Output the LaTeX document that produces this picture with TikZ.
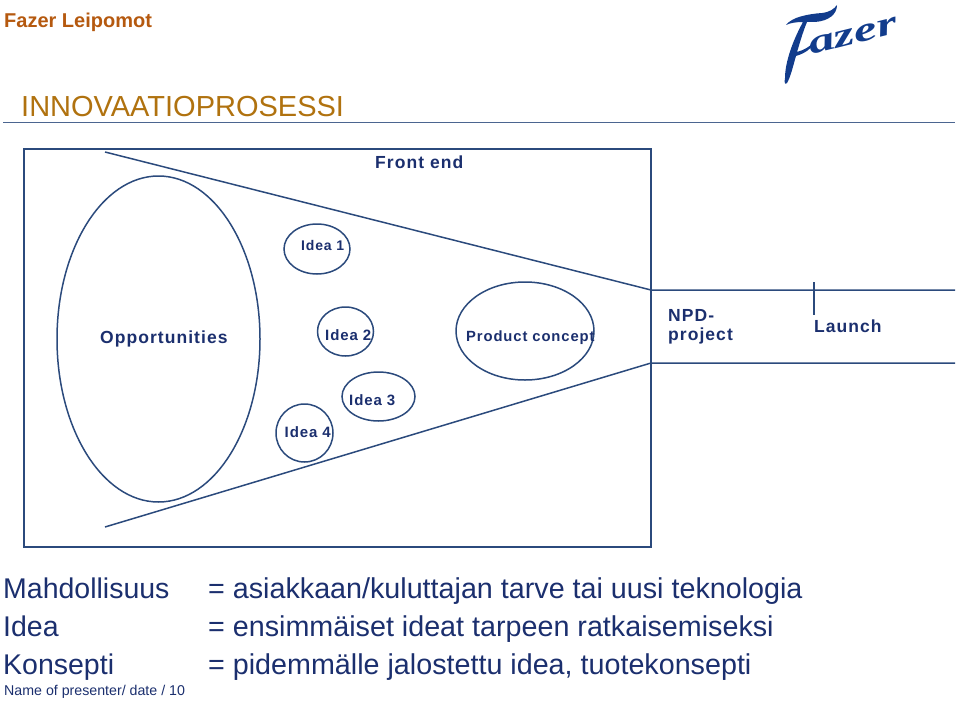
\documentclass[tikz,border=0pt]{standalone}
\usepackage{fontspec}
\setmainfont{Liberation Sans}
\newfontfamily\spaced[LetterSpace=6]{Liberation Sans Bold}
\newfontfamily\logofont{Liberation Serif Bold Italic}
\definecolor{navy}{HTML}{1B2F6E}
\definecolor{linec}{HTML}{2B4A7C}
\definecolor{brandblue}{HTML}{123C8C}
\definecolor{rust}{HTML}{B5590F}
\definecolor{ochre}{HTML}{B0720F}
\newcommand{\fs}[1]{\fontsize{#1}{#1}\selectfont}
\begin{document}
\begin{tikzpicture}[x=1pt,y=-1pt,
  outline/.style={draw=linec,line width=1.6pt},
  blob/.style={draw=linec,line width=1.5pt,fill=none},
  lab/.style={text=navy,inner sep=0pt,font=\spaced\fs{17.5},anchor=base west},
  smalllab/.style={text=navy,inner sep=0pt,font=\spaced\fs{15},anchor=base west},
  concept/.style={text=navy,inner sep=0pt,font=\spaced\fs{14.8},anchor=base west},
  bigtext/.style={text=navy,inner sep=0pt,font=\fs{28.5},anchor=base west},
  bigrest/.style={text=navy,inner sep=0pt,font=\fs{28.7},anchor=base west}]
\useasboundingbox (0,0) rectangle (960,701);
% header
\node[anchor=base west,inner sep=0pt,text=rust,font=\bfseries\fs{20}] (brand) at (4,28) {Fazer Leipomot};
\node[anchor=base west,inner sep=0pt,text=ochre,font=\fs{29}] (title) at (21,116) {INNOVAATIOPROSESSI};
\coordinate (hl) at (3,122.5); \coordinate (hr) at (955,122.5);
\draw[linec!85,line width=1.4pt] (hl) -- (hr);
% logo
\fill[brandblue] (786,25) .. controls (792,17) and (808,14) .. (822,13)
  .. controls (830,12) and (834,9) .. (837,5)
  .. controls (837,14) and (829,21) .. (815,22)
  .. controls (812,22) and (810,22) .. (807,22)
  .. controls (802,34) and (799,46) .. (797,52)
  .. controls (804,50) and (809,47) .. (813,43)
  .. controls (812,48) and (806,53) .. (796,56)
  .. controls (793,66) and (791,76) .. (787,83)
  .. controls (785,85) and (784,83) .. (785,78)
  .. controls (785,62) and (793,40) .. (803,22)
  .. controls (796,22) and (790,23) .. (786,25) -- cycle;
\node[inner sep=0pt,text=brandblue,font=\logofont\fs{34},rotate=14,xscale=1.55,anchor=base west] (logo) at (811,55) {azer};
% frame
\draw[outline] (24,149) rectangle (651,547);
\coordinate (ftl) at (105,152); \coordinate (ftr) at (651,290);
\coordinate (fbl) at (105,527); \coordinate (fbr) at (651,363);
\coordinate (rt) at (955,290); \coordinate (rb) at (955,363);
\coordinate (tt) at (814,282); \coordinate (tb) at (814,315);
\draw[blob] (ftl) -- (ftr) -- (rt);
\draw[blob] (fbl) -- (fbr) -- (rb);
\draw[outline] (tt) -- (tb);
% ellipses
\draw[blob] (158.5,339) ellipse [x radius=101.5,y radius=163];
\draw[blob] (317,249) ellipse [x radius=33,y radius=25];
\draw[blob] (345.5,331.5) ellipse [x radius=28,y radius=24.5];
\draw[blob] (378.5,396.5) ellipse [x radius=36.5,y radius=24.5];
\draw[blob] (304.5,433) ellipse [x radius=28.5,y radius=29];
\draw[blob] (525,331) ellipse [x radius=69,y radius=49];
% labels
\node[lab] (front) at (375,168) {Front end};
\node[lab] (opp) at (100,343) {Opportunities};
\node[smalllab,font=\spaced\fs{14}] (i1) at (301,250) {Idea 1};
\node[smalllab] (i2) at (325,340) {Idea 2};
\node[smalllab] (i3) at (349,405) {Idea 3};
\node[smalllab] (i4) at (284.5,437.5) {Idea 4};
\node[concept] (pc) at (466,341) {Product concept};
\node[lab] (npd1) at (668,321) {NPD-};
\node[lab] (npd2) at (668,340) {project};
\node[lab] (launch) at (814,332) {Launch};
% bottom
\node[bigtext] (m1) at (3,598) {Mahdollisuus};
\node[bigrest] (m2) at (208,598) {= asiakkaan/kuluttajan tarve tai uusi teknologia};
\node[bigtext] (n1) at (3,636) {Idea};
\node[bigrest] (n2) at (208,636) {= ensimmäiset ideat tarpeen ratkaisemiseksi};
\node[bigtext] (k1) at (3,674) {Konsepti};
\node[bigrest] (k2) at (208,674) {= pidemmälle jalostettu idea, tuotekonsepti};
\node[anchor=base west,inner sep=0pt,text=navy,font=\fs{14.2}] (foot) at (4,695) {Name of presenter/ date / 10};
\end{tikzpicture}
\end{document}
